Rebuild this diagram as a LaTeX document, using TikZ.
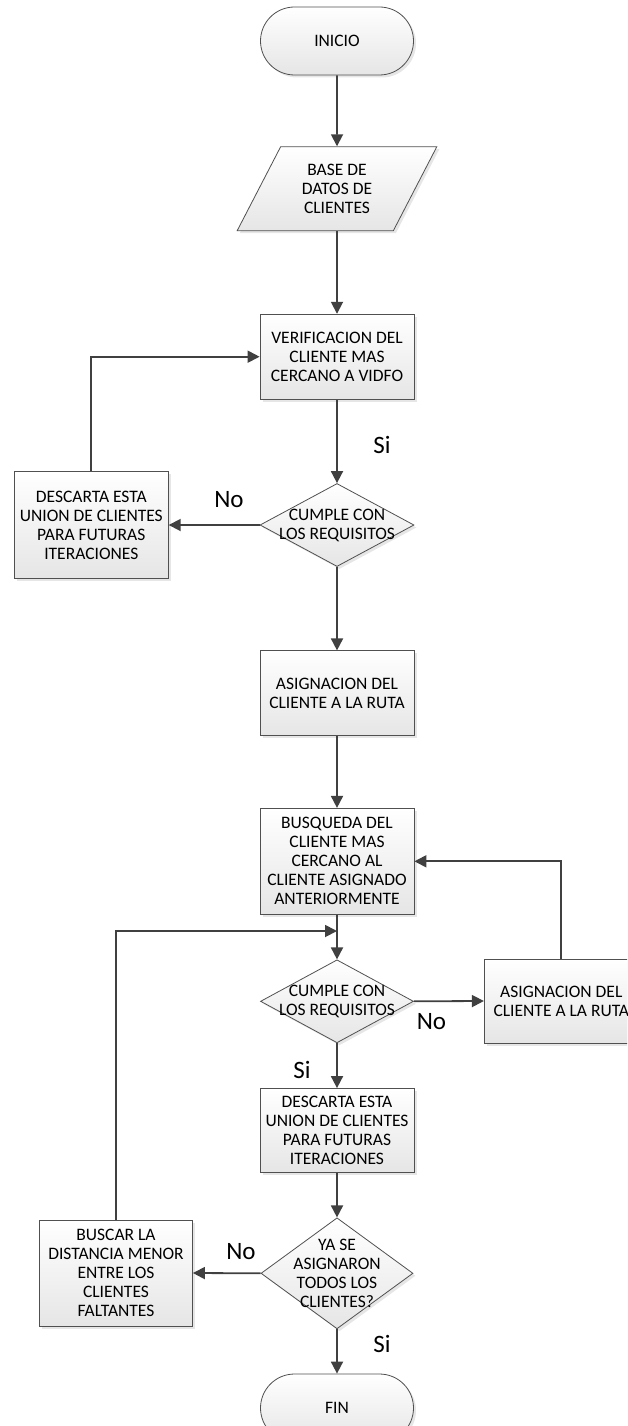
\documentclass[tikz,border=0pt]{standalone}
\usepackage{fontspec}
\setmainfont{Carlito}
\usetikzlibrary{shapes.geometric,arrows.meta,shadows}
\definecolor{lin}{HTML}{404040}
\definecolor{brd}{HTML}{505050}
\tikzset{
 base/.style={draw=brd, line width=0.8pt, top color=white, bottom color=black!10,
   drop shadow={shadow xshift=2.5pt, shadow yshift=-2.5pt, opacity=0.2},
   inner sep=0pt, font=\fontsize{17.5}{19}\selectfont, align=center, text=black},
 proc/.style={base, rectangle, minimum width=154pt},
 term/.style={base, rectangle, rounded corners=34pt, minimum width=153pt, minimum height=68pt},
 decis/.style={base, diamond, minimum width=154pt, minimum height=83pt},
 io/.style={base, trapezium, trapezium left angle=61.3, trapezium right angle=118.7,
   trapezium stretches=true, minimum width=200pt, minimum height=84pt},
 txt/.style={font=\fontsize{17.5}{19}\selectfont, align=center, inner sep=0pt, text=black},
 lbl/.style={font=\fontsize{25}{28}\selectfont, inner sep=0pt, text=black},
 arr/.style={draw=lin, line width=1.8pt, -{Triangle[length=12pt,width=12pt]}},
}
\begin{document}
\begin{tikzpicture}[x=1pt,y=-1pt]
\useasboundingbox (0,0) rectangle (627,1426);
\clip (0,0) rectangle (627,1426);
% nodes
\node[term] (start) at (337,41) {INICIO};
\node[io] (db) at (337,188.7) {BASE DE\\DATOS DE\\CLIENTES};
\node[proc, minimum height=85pt] (verif) at (337,356.7) {VERIFICACION DEL\\CLIENTE MAS\\CERCANO A VIDFO};
\node[decis] (d1) at (337,525) {};
\node[txt] (d1t) at (337,525) {CUMPLE CON\\LOS REQUISITOS};
\node[proc, minimum height=107pt] (disc1) at (91.3,525) {DESCARTA ESTA\\UNION DE CLIENTES\\PARA FUTURAS\\ITERACIONES};
\node[proc, minimum height=85pt] (asig1) at (337,693.3) {ASIGNACION DEL\\CLIENTE A LA RUTA};
\node[proc, minimum height=106pt] (busq) at (337,861.3) {BUSQUEDA DEL\\CLIENTE MAS\\CERCANO AL\\CLIENTE ASIGNADO\\ANTERIORMENTE};
\coordinate (j) at (337,931);
\node[decis, minimum width=153pt] (d2) at (337,1001.3) {};
\node[txt] (d2t) at (337,1001.3) {CUMPLE CON\\LOS REQUISITOS};
\node[proc, minimum height=84pt] (asig2) at (561.3,1001) {ASIGNACION DEL\\CLIENTE A LA RUTA};
\node[proc, minimum height=84pt] (disc2) at (337,1130.5) {DESCARTA ESTA\\UNION DE CLIENTES\\PARA FUTURAS\\ITERACIONES};
\node[decis, minimum width=152pt, minimum height=111pt] (d3) at (337,1273.3) {};
\node[txt] (d3t) at (337,1273.3) {YA SE\\ASIGNARON\\TODOS LOS\\CLIENTES?};
\node[proc, minimum width=153pt, minimum height=106pt] (buscar) at (116,1273) {BUSCAR LA\\DISTANCIA MENOR\\ENTRE LOS\\CLIENTES\\FALTANTES};
\node[term] (fin) at (337,1408) {FIN};
% labels
\node[lbl] (lsi1) at (382,445) {Si};
\node[lbl] (lno1) at (229,500) {No};
\node[lbl] (lno2) at (431.5,1022) {No};
\node[lbl] (lsi2) at (302,1069.5) {Si};
\node[lbl] (lno3) at (241,1251.5) {No};
\node[lbl] (lsi3) at (382,1344) {Si};
% connectors
\draw[arr] (start.south) -- (db.north);
\draw[arr] (db.south) -- (verif.north);
\draw[arr] (verif.south) -- (d1.north);
\draw[arr] (d1.west) -- (disc1.east);
\draw[arr] (disc1.north) |- (verif.west);
\draw[arr] (d1.south) -- (asig1.north);
\draw[arr] (asig1.south) -- (busq.north);
\draw[arr] (busq.south) -- (d2.north);
\draw[arr] (buscar.north) |- (j);
\draw[arr] (d2.east) -- (asig2.west);
\draw[arr] (asig2.north) |- (busq.east);
\draw[arr] (d2.south) -- (disc2.north);
\draw[arr] (disc2.south) -- (d3.north);
\draw[arr] (d3.west) -- (buscar.east);
\draw[arr] (d3.south) -- (fin.north);
\end{tikzpicture}
\end{document}
